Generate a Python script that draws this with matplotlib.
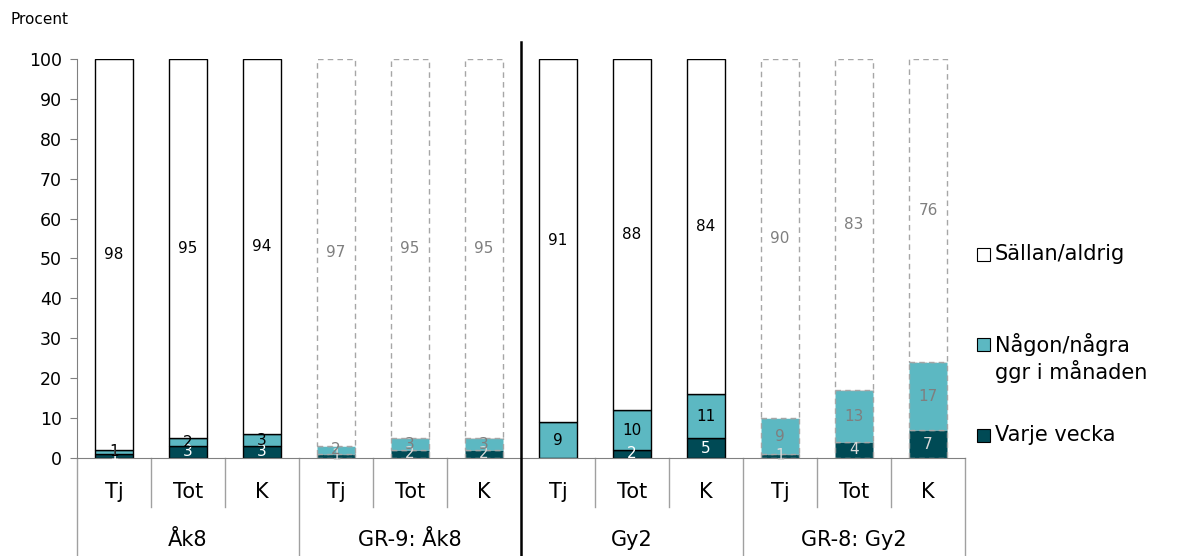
import matplotlib
matplotlib.use('Agg')
import matplotlib.pyplot as plt
from matplotlib.patches import Rectangle

# data
categories = ['Tj', 'Tot', 'K'] * 4
groups = ['Åk8', 'GR-9: Åk8', 'Gy2', 'GR-8: Gy2']
varje_vecka = [1, 3, 3, 1, 2, 2, 0, 2, 5, 1, 4, 7]
nagon_gang = [1, 2, 3, 2, 3, 3, 9, 10, 11, 9, 13, 17]
sallan = [98, 95, 94, 97, 95, 95, 91, 88, 84, 90, 83, 76]
comparison = [False, False, False, True, True, True,
              False, False, False, True, True, True]

dark = '#004A55'
teal = '#5CB8C2'
gray = '#A6A6A6'

fig = plt.figure(figsize=(11.77, 5.56), dpi=100)
ax = fig.add_axes([0.0654, 0.1763, 0.7545, 0.7177])

x = list(range(len(categories)))
w = 0.51
bottoms2 = varje_vecka
bottoms3 = [a + b for a, b in zip(varje_vecka, nagon_gang)]

for i in x:
    if comparison[i]:
        ec, ls, txt, txt_dark = gray, (0, (4, 3)), '#7F7F7F', '#D9D9D9'
    else:
        ec, ls, txt, txt_dark = 'black', '-', 'black', 'white'
    segs = [(varje_vecka[i], 0, dark, txt_dark),
            (nagon_gang[i], bottoms2[i], teal, txt),
            (sallan[i], bottoms3[i], 'white', txt)]
    for val, bot, col, tc in segs:
        if val <= 0:
            continue
        ax.bar(i, val, bottom=bot, width=w, color=col, edgecolor=ec,
               linestyle=ls, linewidth=1.0, zorder=2)
        ax.text(i, bot + val / 2, str(val), ha='center', va='center',
                fontsize=11, color=tc, zorder=3)

ax.set_xlim(-0.5, len(categories) - 0.5)
ax.set_ylim(0, 100)
ax.set_yticks(range(0, 101, 10))
ax.tick_params(axis='y', labelsize=12.5, color='#808080', length=5, pad=6)
ax.set_xticks([])
for s in ['top', 'right']:
    ax.spines[s].set_visible(False)
ax.spines['left'].set_color('#808080')
ax.spines['bottom'].set_color('#808080')

# category labels and separators below the axis
for i, c in enumerate(categories):
    ax.text(i, -8.6, c, ha='center', va='center', fontsize=15, clip_on=False)
for k in range(len(categories) + 1):
    b = k - 0.5
    low = -25 if k % 3 == 0 else -12.3
    if k == 6:
        continue
    ax.plot([b, b], [0, low], color='#A0A0A0', lw=1, clip_on=False)
for g, name in enumerate(groups):
    ax.text(g * 3 + 1, -20.6, name, ha='center', va='center', fontsize=15,
            clip_on=False)

# black divider between grundskola and gymnasium
ax.plot([5.5, 5.5], [-25, 104.3], color='black', lw=1.8, clip_on=False,
        zorder=4)

fig.text(10 / 1177, 1 - 20 / 556, 'Procent', fontsize=11, va='center')

# legend
leg = [('Sällan/aldrig', 'white', 254, 254),
       ('Någon/några\nggr i månaden', teal, 344, 358),
       ('Varje vecka', dark, 435, 435)]
for label, col, ybox, ytxt in leg:
    fig.patches.append(Rectangle((977 / 1177, 1 - (ybox + 6.5) / 556),
                                 13 / 1177, 13 / 556, facecolor=col,
                                 edgecolor='black', lw=0.8,
                                 transform=fig.transFigure))
    fig.text(995 / 1177, 1 - ytxt / 556, label, fontsize=15, va='center',
             linespacing=1.25)

fig.savefig('out.png', dpi=100)
